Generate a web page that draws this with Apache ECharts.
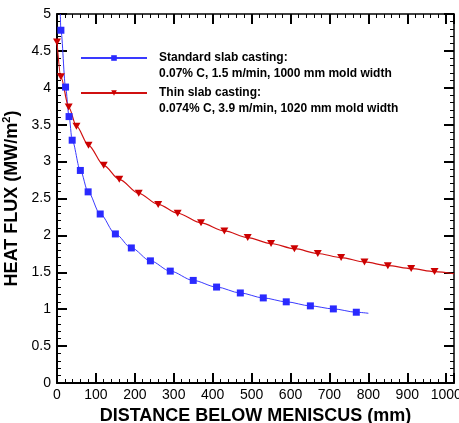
<!DOCTYPE html>
<html>
<head>
<meta charset="utf-8">
<script src="https://cdn.jsdelivr.net/npm/echarts@6/dist/echarts.min.js"></script>
<style>
html,body{margin:0;padding:0;background:#fff;}
#chart{width:459px;height:423px;}
</style>
</head>
<body>
<div id="chart"></div>
<script>
// Tick labels
const xTicks = [0, 100, 200, 300, 400, 500, 600, 700, 800, 900, 1000];
const yTicks = [0, 0.5, 1, 1.5, 2, 2.5, 3, 3.5, 4, 4.5, 5];

// Series names / legend text
const seriesNames = ['Standard slab casting:', 'Thin slab casting:'];
const seriesDetails = ['0.07% C, 1.5 m/min, 1000 mm mold width', '0.074% C, 3.9 m/min, 1020 mm mold width'];

// Standard slab casting (marked points)
const stdX = [10, 22, 31, 39, 60, 80, 111, 150, 191, 240, 291, 350, 410, 471, 530, 589, 651, 710, 769];
const stdY = [4.78, 4.01, 3.61, 3.29, 2.88, 2.59, 2.29, 2.02, 1.83, 1.655, 1.516, 1.39, 1.30, 1.22, 1.153, 1.10, 1.045, 1.004, 0.959];
// curve ends without marker
const stdStart = [8.5, 5.0];
const stdEnd = [800, 0.945];

// Thin slab casting (marked points)
const thinX = [0, 10, 30, 50, 81, 120, 160, 210, 260, 310, 370, 430, 490, 550, 610, 670, 730, 790, 850, 910, 970];
const thinY = [4.62, 4.15, 3.74, 3.48, 3.22, 2.95, 2.76, 2.57, 2.42, 2.30, 2.17, 2.06, 1.97, 1.89, 1.82, 1.755, 1.70, 1.64, 1.59, 1.55, 1.51];
const thinEnd = [1020, 1.48];

const X_MAX = 1020;
const FONT = 'Liberation Sans, Arial, Helvetica, sans-serif';

function buildData(xs, ys, start, end) {
  const d = [];
  if (start) d.push({ value: start, symbol: 'none' });
  xs.forEach((x, i) => d.push([x, ys[i]]));
  if (end) d.push({ value: end, symbol: 'none' });
  return d;
}

const chart = echarts.init(document.getElementById('chart'));

const xLabelFmt = v => (xTicks.indexOf(v) >= 0 ? String(v) : '');
const yLabelFmt = v => (yTicks.indexOf(v) >= 0 ? String(v) : '');

const tickStyle = { show: true, inside: true, length: 10, lineStyle: { color: '#000', width: 2 } };
const minorStyle = { show: true, splitNumber: 5, length: 4, lineStyle: { color: '#000', width: 1 } };

const option = {
  animation: false,
  grid: { left: 57, right: 5, top: 14, bottom: 40, outerBoundsMode: 'none' },
  legend: {
    orient: 'vertical',
    left: 75,
    top: 29,
    itemWidth: 66,
    itemHeight: 7,
    itemGap: -13,
    data: seriesNames,
    formatter: function (name) {
      const i = seriesNames.indexOf(name);
      return '\n' + name + '\n' + seriesDetails[i];
    },
    textStyle: { fontFamily: FONT, fontWeight: 'bold', fontSize: 12, lineHeight: 16, color: '#000', padding: [0, 0, 0, 7] }
  },
  xAxis: [
    {
      type: 'value', min: 0, max: X_MAX, interval: 100, position: 'bottom',
      axisLine: { show: true, onZero: false, lineStyle: { color: '#000', width: 2 } },
      axisTick: tickStyle,
      minorTick: minorStyle,
      axisLabel: { show: true, formatter: xLabelFmt, color: '#000', fontSize: 14, fontFamily: FONT, margin: 5 },
      splitLine: { show: false },
      name: 'DISTANCE BELOW MENISCUS (mm)', nameLocation: 'middle', nameGap: 23,
      nameTextStyle: { fontFamily: FONT, fontWeight: 'bold', fontSize: 18, color: '#000' }
    },
    {
      type: 'value', min: 0, max: X_MAX, interval: 100, position: 'top',
      axisLine: { show: true, onZero: false, lineStyle: { color: '#000', width: 1.5 } },
      axisTick: tickStyle,
      minorTick: minorStyle,
      axisLabel: { show: false }, splitLine: { show: false }
    }
  ],
  yAxis: [
    {
      type: 'value', min: 0, max: 5, interval: 0.5, position: 'left',
      axisLine: { show: true, onZero: false, lineStyle: { color: '#000', width: 2 } },
      axisTick: tickStyle,
      minorTick: minorStyle,
      axisLabel: { show: true, formatter: yLabelFmt, color: '#000', fontSize: 14, fontFamily: FONT, margin: 6 },
      splitLine: { show: false },
      name: '{a|HEAT FLUX (MW/m}{s|2}{a|)}', nameLocation: 'middle', nameGap: 23, nameRotate: 90,
      nameTextStyle: {
        color: '#000',
        rich: {
          a: { fontFamily: FONT, fontWeight: 'bold', fontSize: 18, color: '#000' },
          s: { fontFamily: FONT, fontWeight: 'bold', fontSize: 11, color: '#000', verticalAlign: 'top', padding: [0, 0, 9, 0] }
        }
      }
    },
    {
      type: 'value', min: 0, max: 5, interval: 0.5, position: 'right',
      axisLine: { show: true, onZero: false, lineStyle: { color: '#000', width: 1.5 } },
      axisTick: tickStyle,
      minorTick: minorStyle,
      axisLabel: { show: false }, splitLine: { show: false }
    }
  ],
  series: [
    {
      name: seriesNames[0], type: 'line', xAxisIndex: 0, yAxisIndex: 0,
      data: buildData(stdX, stdY, stdStart, stdEnd),
      smooth: 0.3, smoothMonotone: 'x',
      symbol: 'rect', symbolSize: 7,
      lineStyle: { color: '#3a3aff', width: 1 },
      itemStyle: { color: '#2a2aff' }
    },
    {
      name: seriesNames[1], type: 'line', xAxisIndex: 0, yAxisIndex: 0,
      data: buildData(thinX, thinY, null, thinEnd),
      smooth: 0.3, smoothMonotone: 'x',
      symbol: 'triangle', symbolRotate: 180, symbolSize: [8, 7],
      lineStyle: { color: '#d01010', width: 1.2 },
      itemStyle: { color: '#cc0000' }
    }
  ]
};
chart.setOption(option);
</script>
</body>
</html>
